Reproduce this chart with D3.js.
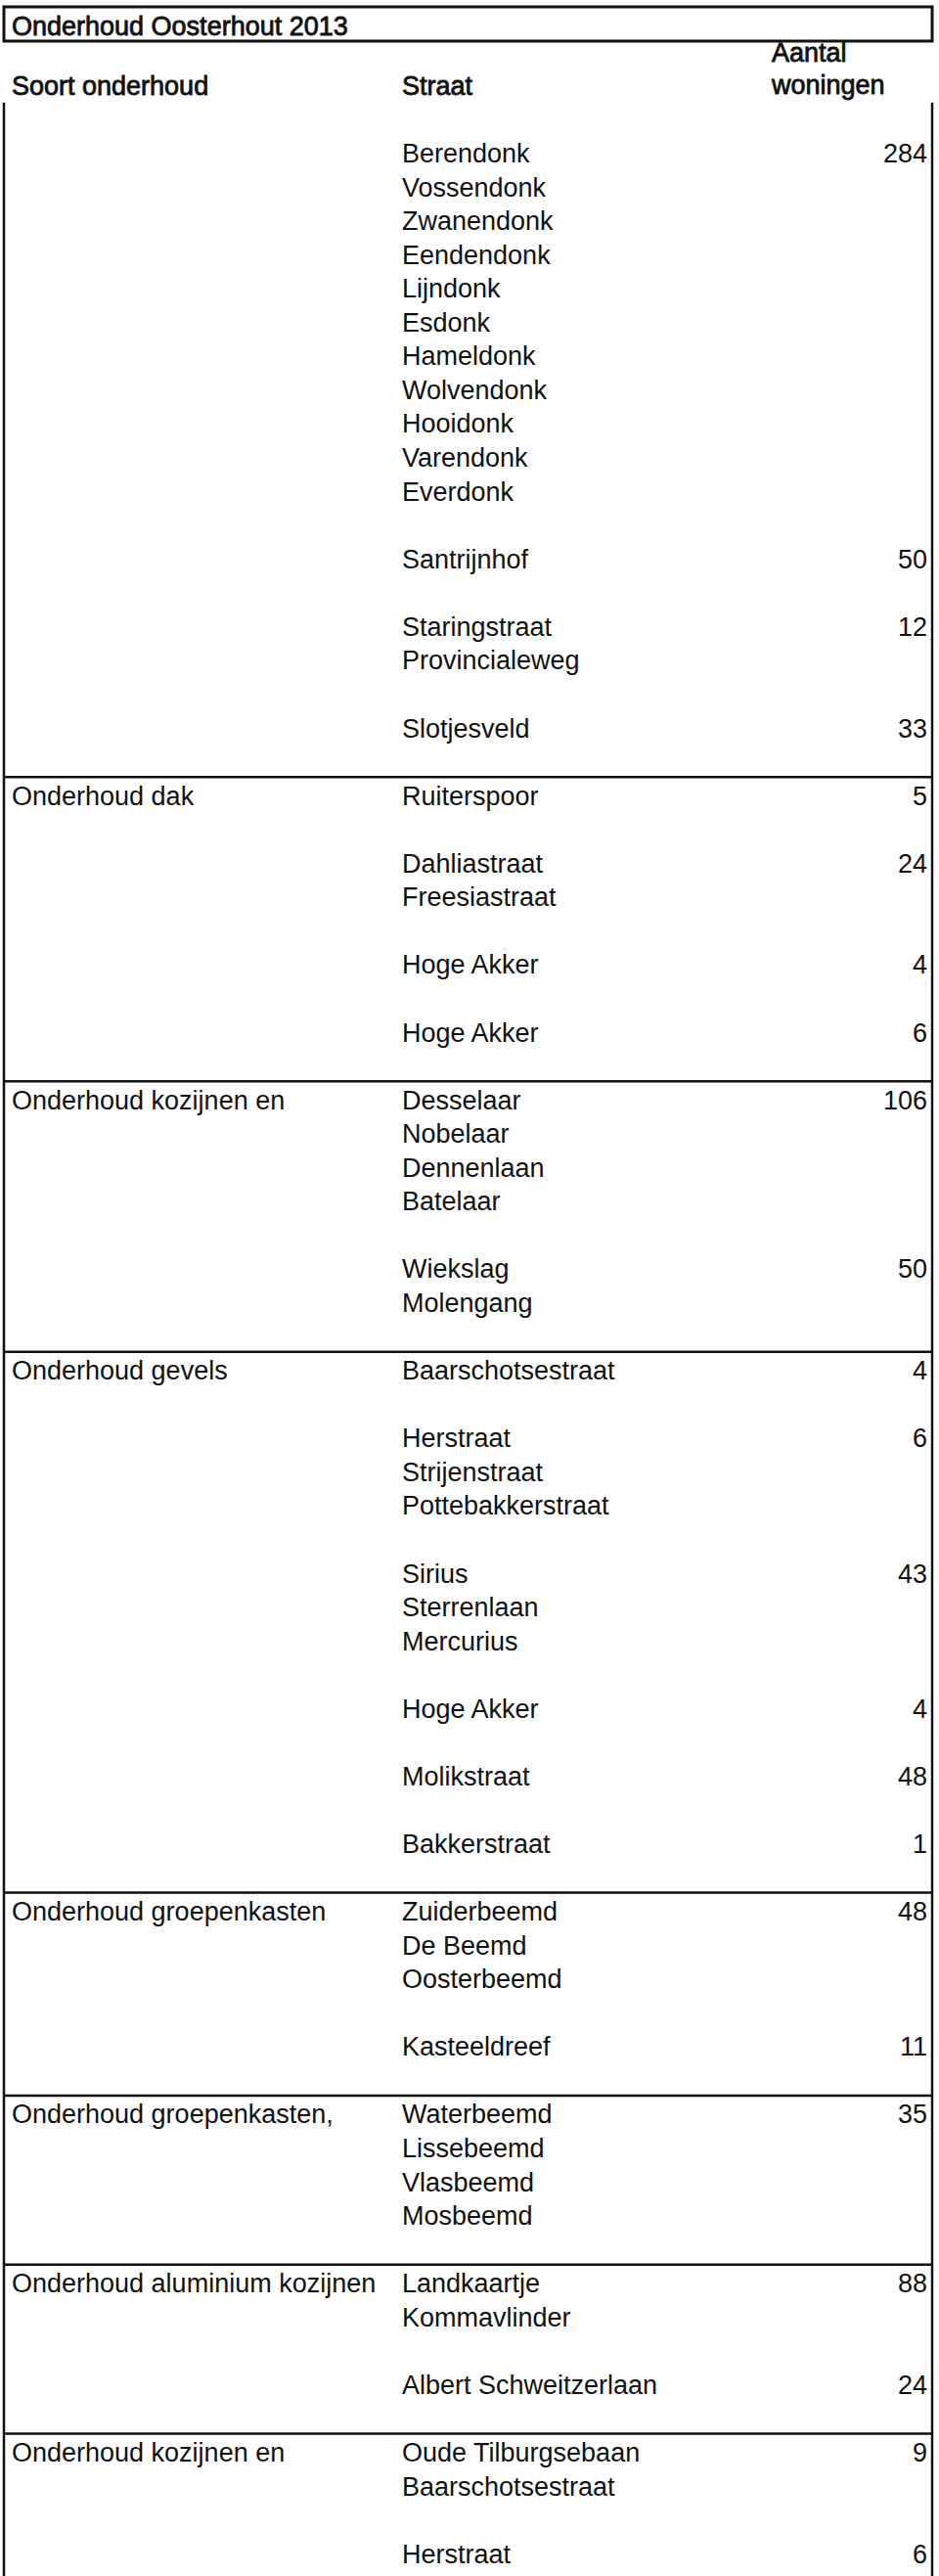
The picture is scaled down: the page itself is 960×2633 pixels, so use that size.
<!DOCTYPE html>
<html>
<head>
<meta charset="utf-8">
<script src="https://cdn.jsdelivr.net/npm/d3@7"></script>
<style>
  body { margin: 0; background: #fff; }
  text { font-family: "Liberation Sans", Arial, sans-serif; fill: #111; }
</style>
</head>
<body>
<div class="chart"></div>
<script>
const title = "Onderhoud Oosterhout 2013"
const headers = ["Soort onderhoud", "Straat", "Aantal", "woningen"]

const groupLabels = ["", "Onderhoud dak", "Onderhoud kozijnen en", "Onderhoud gevels",
  "Onderhoud groepenkasten", "Onderhoud groepenkasten,", "Onderhoud aluminium kozijnen",
  "Onderhoud kozijnen en"]

const blockStreets = [
  ["Berendonk", "Vossendonk", "Zwanendonk", "Eendendonk", "Lijndonk", "Esdonk",
   "Hameldonk", "Wolvendonk", "Hooidonk", "Varendonk", "Everdonk"],
  ["Santrijnhof"],
  ["Staringstraat", "Provincialeweg"],
  ["Slotjesveld"],
  ["Ruiterspoor"],
  ["Dahliastraat", "Freesiastraat"],
  ["Hoge Akker"],
  ["Hoge Akker"],
  ["Desselaar", "Nobelaar", "Dennenlaan", "Batelaar"],
  ["Wiekslag", "Molengang"],
  ["Baarschotsestraat"],
  ["Herstraat", "Strijenstraat", "Pottebakkerstraat"],
  ["Sirius", "Sterrenlaan", "Mercurius"],
  ["Hoge Akker"],
  ["Molikstraat"],
  ["Bakkerstraat"],
  ["Zuiderbeemd", "De Beemd", "Oosterbeemd"],
  ["Kasteeldreef"],
  ["Waterbeemd", "Lissebeemd", "Vlasbeemd", "Mosbeemd"],
  ["Landkaartje", "Kommavlinder"],
  ["Albert Schweitzerlaan"],
  ["Oude Tilburgsebaan", "Baarschotsestraat"],
  ["Herstraat"]
]
const blockCounts = [284, 50, 12, 33, 5, 24, 4, 6, 106, 50, 4, 6, 43, 4, 48, 1, 48, 11, 35, 88, 24, 9, 6]
const blockGroup = [0, 0, 0, 0, 1, 1, 1, 1, 2, 2, 3, 3, 3, 3, 3, 3, 4, 4, 5, 6, 6, 7, 7]

// lay blocks out on rows, one blank row between blocks
let row = 0
const blocks = blockStreets.map((streets, i) => {
  const b = {streets, count: blockCounts[i], group: blockGroup[i], row}
  row += streets.length + 1
  return b
})
const groupStarts = blocks.filter((b, i) => i == 0 || b.group != blocks[i - 1].group)

const width = 960, height = 2633
const rowH = 34.56
const left = 4, right = 953

const svg = d3.select(".chart").append("svg")
  .attr("width", width)
  .attr("height", height)

const yScale = d3.scaleLinear()
  .domain([0, 1])
  .range([166, 166 + rowH])

const xScale = d3.scaleOrdinal()
  .domain(["group", "street", "count"])
  .range([12, 411, 948])

const fs = 27

// title box
svg.append("rect")
  .attr("x", left).attr("y", 7)
  .attr("width", right - left).attr("height", 35)
  .attr("fill", "none").attr("stroke", "#111").attr("stroke-width", 3)

svg.append("text")
  .attr("x", 12).attr("y", 36)
  .attr("font-size", fs)
  .attr("stroke", "#111").attr("stroke-width", 0.8)
  .text(title)

// header
const hdr = svg.append("g").attr("font-size", fs)
  .attr("stroke", "#111").attr("stroke-width", 0.8)
hdr.append("text").attr("x", xScale("group")).attr("y", 97).text(headers[0])
hdr.append("text").attr("x", xScale("street")).attr("y", 97).text(headers[1])
hdr.append("text").attr("x", 789).attr("y", 63).text(headers[2])
hdr.append("text").attr("x", 789).attr("y", 96).text(headers[3])

// borders
svg.selectAll(".vline")
  .data([left, right])
  .enter().append("line")
  .attr("x1", d => d).attr("x2", d => d)
  .attr("y1", 105).attr("y2", height)
  .attr("stroke", "#111").attr("stroke-width", 2.5)

svg.selectAll(".hline")
  .data(groupStarts.slice(1))
  .enter().append("line")
  .attr("x1", left).attr("x2", right)
  .attr("y1", d => yScale(d.row) - 28.5)
  .attr("y2", d => yScale(d.row) - 28.5)
  .attr("stroke", "#111").attr("stroke-width", 2.5)

// group labels
svg.selectAll(".glabel")
  .data(groupStarts)
  .enter().append("text")
  .attr("x", xScale("group"))
  .attr("y", d => yScale(d.row))
  .attr("font-size", fs)
  .text(d => groupLabels[d.group])

// streets
const streetRows = blocks.flatMap(b => b.streets.map((s, j) => ({s, row: b.row + j})))
svg.selectAll(".street")
  .data(streetRows)
  .enter().append("text")
  .attr("x", xScale("street"))
  .attr("y", d => yScale(d.row))
  .attr("font-size", fs)
  .text(d => d.s)

// counts
svg.selectAll(".count")
  .data(blocks)
  .enter().append("text")
  .attr("x", xScale("count"))
  .attr("y", d => yScale(d.row))
  .attr("font-size", fs)
  .attr("text-anchor", "end")
  .text(d => d.count)
</script>
</body>
</html>
